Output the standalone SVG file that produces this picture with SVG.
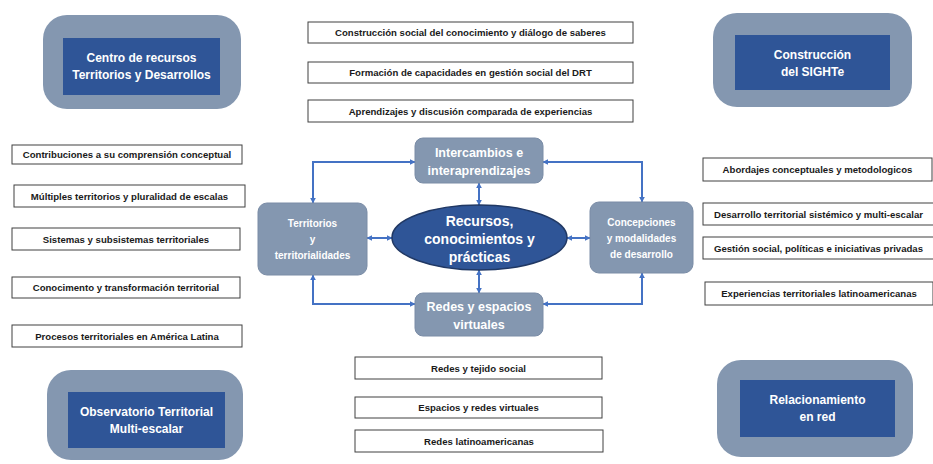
<svg xmlns="http://www.w3.org/2000/svg" width="933" height="464" viewBox="0 0 933 464">
<defs>
<style>
.outer{fill:#8497b0;}
.inner{fill:#2f5597;}
.ct{font-family:"Liberation Sans",Arial,sans-serif;font-weight:bold;fill:#ffffff;text-anchor:middle;}
.cbox{fill:#8497b0;stroke:#7a8ca6;stroke-width:1;}
.tb{fill:#ffffff;stroke:#404040;stroke-width:1;}
.tt{font-family:"Liberation Sans",Arial,sans-serif;font-weight:bold;font-size:9.6px;fill:#1a1a1a;text-anchor:middle;}
.con{fill:none;stroke:#4472c4;stroke-width:2;marker-start:url(#ah);marker-end:url(#ah);}
</style>
<marker id="ah" viewBox="0 0 10 10" refX="9" refY="5" markerWidth="3" markerHeight="3" orient="auto-start-reverse" markerUnits="strokeWidth">
<path d="M0,0 L10,5 L0,10 z" fill="#4472c4"/>
</marker>
</defs>
<rect width="933" height="464" fill="#ffffff"/>

<g id="centro-recursos">
<rect class="outer" x="43" y="15" width="198" height="94" rx="24"/>
<rect class="inner" x="63" y="38" width="157" height="57"/>
<text class="ct" font-size="12" x="141.5" y="62">Centro de recursos</text>
<text class="ct" font-size="12" x="141.5" y="79">Territorios y Desarrollos</text>
</g>

<g id="construccion-sighte">
<rect class="outer" x="713" y="13" width="199" height="94" rx="24"/>
<rect class="inner" x="735" y="35" width="155" height="55"/>
<text class="ct" font-size="12" x="812.5" y="59">Construcción</text>
<text class="ct" font-size="12" x="812.5" y="76">del SIGHTe</text>
</g>

<g id="observatorio">
<rect class="outer" x="47" y="370" width="196" height="90" rx="24"/>
<rect class="inner" x="68" y="392" width="157" height="56"/>
<text class="ct" font-size="12" x="146.5" y="416">Observatorio Territorial</text>
<text class="ct" font-size="12" x="146.5" y="433">Multi-escalar</text>
</g>

<g id="relacionamiento">
<rect class="outer" x="717" y="360" width="196" height="97" rx="24"/>
<rect class="inner" x="740" y="380" width="155" height="57"/>
<text class="ct" font-size="12" x="817.5" y="404">Relacionamiento</text>
<text class="ct" font-size="12" x="817.5" y="421">en red</text>
</g>

<g id="connectors">
<path class="con" d="M313,203 V162 H415"/>
<path class="con" d="M543,162 H642 V202"/>
<path class="con" d="M313,275 V304 H415"/>
<path class="con" d="M642,273 V304 H543"/>
<path class="con" d="M479,183 V205"/>
<path class="con" d="M479,270 V293"/>
<path class="con" d="M367,238 H392"/>
<path class="con" d="M567,238 H590"/>
</g>

<g id="intercambios">
<rect class="cbox" x="415" y="138" width="128" height="45" rx="8"/>
<text class="ct" font-size="12.5" x="479" y="157">Intercambios e</text>
<text class="ct" font-size="12.5" x="479" y="175">interaprendizajes</text>
</g>

<g id="territorios">
<rect class="cbox" x="258" y="203" width="109" height="72" rx="9"/>
<text class="ct" font-size="10" x="312.5" y="227">Territorios</text>
<text class="ct" font-size="10" x="312.5" y="243">y</text>
<text class="ct" font-size="10" x="312.5" y="259">territorialidades</text>
</g>

<g id="concepciones">
<rect class="cbox" x="590" y="202" width="103" height="71" rx="9"/>
<text class="ct" font-size="10" x="641.5" y="226">Concepciones</text>
<text class="ct" font-size="10" x="641.5" y="242">y modalidades</text>
<text class="ct" font-size="10" x="641.5" y="258">de desarrollo</text>
</g>

<g id="redes">
<rect class="cbox" x="415" y="293" width="128" height="43" rx="8"/>
<text class="ct" font-size="12.5" x="479" y="311">Redes y espacios</text>
<text class="ct" font-size="12.5" x="479" y="329">virtuales</text>
</g>

<g id="recursos">
<ellipse cx="479.5" cy="237.5" rx="87.5" ry="32.5" fill="#2f5597" stroke="#203864" stroke-width="1.5"/>
<text class="ct" font-size="14" x="479.5" y="226">Recursos,</text>
<text class="ct" font-size="14" x="479.5" y="244">conocimientos y</text>
<text class="ct" font-size="14" x="479.5" y="262">prácticas</text>
</g>

<g id="top-items">
<rect class="tb" x="308" y="22" width="325" height="21"/>
<text class="tt" x="470.5" y="36">Construcción social del conocimiento y diálogo de saberes</text>
<rect class="tb" x="308" y="62" width="325" height="21"/>
<text class="tt" x="470.5" y="76">Formación de capacidades en gestión social del DRT</text>
<rect class="tb" x="308" y="100" width="325" height="22"/>
<text class="tt" x="470.5" y="114.5">Aprendizajes y discusión comparada de experiencias</text>
</g>

<g id="left-items">
<rect class="tb" x="12" y="145" width="230" height="19"/>
<text class="tt" x="127" y="158">Contribuciones a su comprensión conceptual</text>
<rect class="tb" x="14" y="185" width="231" height="22"/>
<text class="tt" x="129.5" y="199.5">Múltiples territorios y pluralidad de escalas</text>
<rect class="tb" x="12" y="228" width="228" height="22"/>
<text class="tt" x="126" y="242.5">Sistemas y subsistemas territoriales</text>
<rect class="tb" x="12" y="277" width="228" height="21"/>
<text class="tt" x="126" y="291">Conocimento y transformación territorial</text>
<rect class="tb" x="12" y="325" width="230" height="22"/>
<text class="tt" x="127" y="339.5">Procesos territoriales en América Latina</text>
</g>

<g id="right-items">
<rect class="tb" x="703" y="158" width="229" height="23"/>
<text class="tt" x="817.5" y="173">Abordajes conceptuales y metodologicos</text>
<rect class="tb" x="703" y="203" width="231" height="22"/>
<text class="tt" x="818.5" y="217.5">Desarrollo territorial sistémico y multi-escalar</text>
<rect class="tb" x="703" y="237" width="231" height="22"/>
<text class="tt" x="818.5" y="251.5">Gestión social, políticas e iniciativas privadas</text>
<rect class="tb" x="705" y="282" width="228" height="23"/>
<text class="tt" x="819" y="297">Experiencias territoriales latinoamericanas</text>
</g>

<g id="bottom-items">
<rect class="tb" x="355" y="357" width="247" height="22"/>
<text class="tt" x="478.5" y="371.5">Redes y tejido social</text>
<rect class="tb" x="355" y="397" width="247" height="21"/>
<text class="tt" x="478.5" y="411">Espacios y redes virtuales</text>
<rect class="tb" x="355" y="430" width="248" height="22"/>
<text class="tt" x="479" y="444.5">Redes latinoamericanas</text>
</g>
</svg>
